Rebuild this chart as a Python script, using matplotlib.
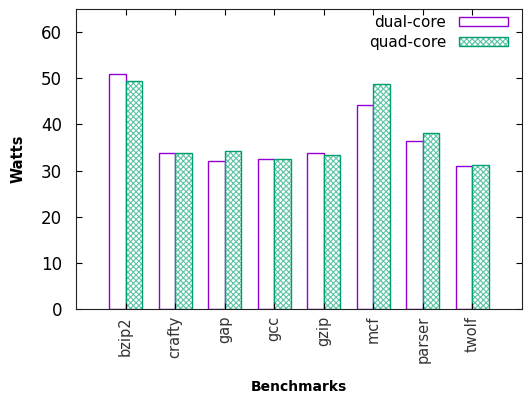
import matplotlib
matplotlib.use("Agg")
import matplotlib.pyplot as plt
from matplotlib.patches import Patch
from matplotlib.legend_handler import HandlerTuple
import numpy as np

benchmarks = ["bzip2", "crafty", "gap", "gcc", "gzip", "mcf", "parser", "twolf"]
dual_core = [50.9, 33.9, 32.1, 32.5, 33.9, 44.2, 36.5, 30.9]
quad_core = [49.4, 33.9, 34.3, 32.5, 33.3, 48.7, 38.2, 31.2]

purple = "#9400D3"
green = "#009E73"
light_green = "#5ec4a6"
plt.rcParams["hatch.linewidth"] = 0.8

fig = plt.figure(figsize=(5.29, 3.97), dpi=100)
ax = fig.add_axes([76/529, 1 - 309/397, (522-76)/529, (309-9)/397])

x = np.arange(len(benchmarks))
w = 1/3
ax.bar(x - w/2, dual_core, width=w, facecolor="none", edgecolor=purple,
       linewidth=1.0)
ax.bar(x + w/2, quad_core, width=w, facecolor="white", edgecolor=light_green,
       linewidth=0, hatch="xxxxxx")
ax.bar(x + w/2, quad_core, width=w, facecolor="none", edgecolor=green,
       linewidth=1.0)

ax.set_xlim(-1, 8)
ax.set_ylim(0, 65)
ax.set_yticks(range(0, 61, 10))
ax.set_xticks(x)
ax.set_xticklabels(benchmarks, rotation=90, fontsize=10.5, color="#333333")
ax.tick_params(axis="y", labelsize=12, direction="in", right=True, length=4, pad=10)
ax.tick_params(axis="x", direction="in", top=True, length=4, pad=5)
ax.set_ylabel("Watts", fontsize=10.5, fontweight="bold")
ax.set_xlabel("Benchmarks", fontsize=10, fontweight="bold")
ax.xaxis.set_label_coords(0.5, (309 - 387) / 300)
ax.xaxis.label.set_va("center")
ax.yaxis.set_label_coords((18 - 76) / 446, 0.5)
ax.yaxis.label.set_va("center")
for s in ax.spines.values():
    s.set_color("#222222")

h_dual = Patch(facecolor="none", edgecolor=purple, linewidth=1.0)
h_quad = (Patch(facecolor="white", edgecolor=light_green, linewidth=0, hatch="xxxxxx"),
          Patch(facecolor="none", edgecolor=green, linewidth=1.0))
leg = ax.legend([h_dual, h_quad], ["dual-core", "quad-core"],
                handler_map={tuple: HandlerTuple(ndivide=1, pad=0)},
                loc="upper right", bbox_to_anchor=(0.969, 0.98),
                frameon=False, markerfirst=False,
                prop={"size": 11}, handlelength=3.2,
                handleheight=0.55, labelspacing=0.3, borderaxespad=0,
                borderpad=0, handletextpad=0.85)
for t in leg.get_texts():
    t.set_ha("right")

fig.savefig("out.png", dpi=100)
